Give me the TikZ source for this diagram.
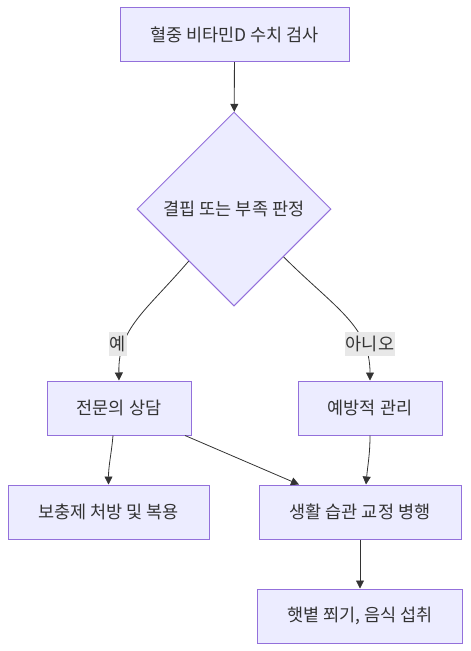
\documentclass[tikz,border=0pt]{standalone}
\usepackage{fontspec}
\setmainfont{Noto Sans CJK KR}
\usetikzlibrary{arrows.meta,shapes.geometric}
\definecolor{nodefill}{HTML}{ECECFF}
\definecolor{nodeline}{HTML}{9370DB}
\definecolor{edgecol}{HTML}{333333}
\definecolor{lblfill}{HTML}{E8E8E8}
\tikzset{
  box/.style={draw=nodeline,fill=nodefill,line width=1pt,minimum height=54pt,inner sep=0pt,
    text=edgecol,font=\fontsize{17.5}{20}\selectfont},
  decision/.style={diamond,draw=nodeline,fill=nodefill,line width=1pt,minimum width=194pt,
    minimum height=194pt,inner sep=0pt,text=edgecol,font=\fontsize{17.5}{20}\selectfont},
  edge/.style={draw=edgecol,line width=0.8pt,-{Triangle[length=8pt,width=8pt]}},
  lbl/.style={fill=lblfill,text=edgecol,inner sep=1pt,minimum height=24pt,font=\fontsize{17.5}{20}\selectfont}
}
\begin{document}
\begin{tikzpicture}[x=1pt,y=-1pt]
\useasboundingbox (0,0) rectangle (471,651);
\fill[white] (0,0) rectangle (471,651);
% nodes
\node[box,minimum width=229pt] (test) at (234.5,34.5) {혈중 비타민D 수치 검사};
\node[decision] (judge) at (234,209) {결핍 또는 부족 판정};
\node[box,minimum width=144pt] (cons) at (119,408) {전문의 상담};
\node[box,minimum width=144pt] (prev) at (370,408) {예방적 관리};
\node[box,minimum width=201pt] (supp) at (108.5,512) {보충제 처방 및 복용};
\node[box,minimum width=202pt] (life) at (360,512) {생활 습관 교정 병행};
\node[box,minimum width=205pt] (sun) at (360,616) {햇볕 쬐기, 음식 섭취};
% edges
\draw[edge] (test) -- (judge);
\draw[edge] (judge.-131) .. controls (145,312) and (118,328) .. (cons.north);
\draw[edge] (judge.-44) .. controls (335,308) and (370,326) .. (prev.north);
\node[lbl] (yes) at (118,344) {예};
\node[lbl] (no) at (370,344) {아니오};
\draw[edge] ([xshift=-6pt]cons.south) to[out=-95,in=90] (supp.north);
\draw[edge] ([xshift=66pt]cons.south) -- ([xshift=-61pt]life.north);
\draw[edge] (prev.south) to[out=-90,in=85] ([xshift=6pt]life.north);
\draw[edge] (life) -- (sun);
\end{tikzpicture}
\end{document}
